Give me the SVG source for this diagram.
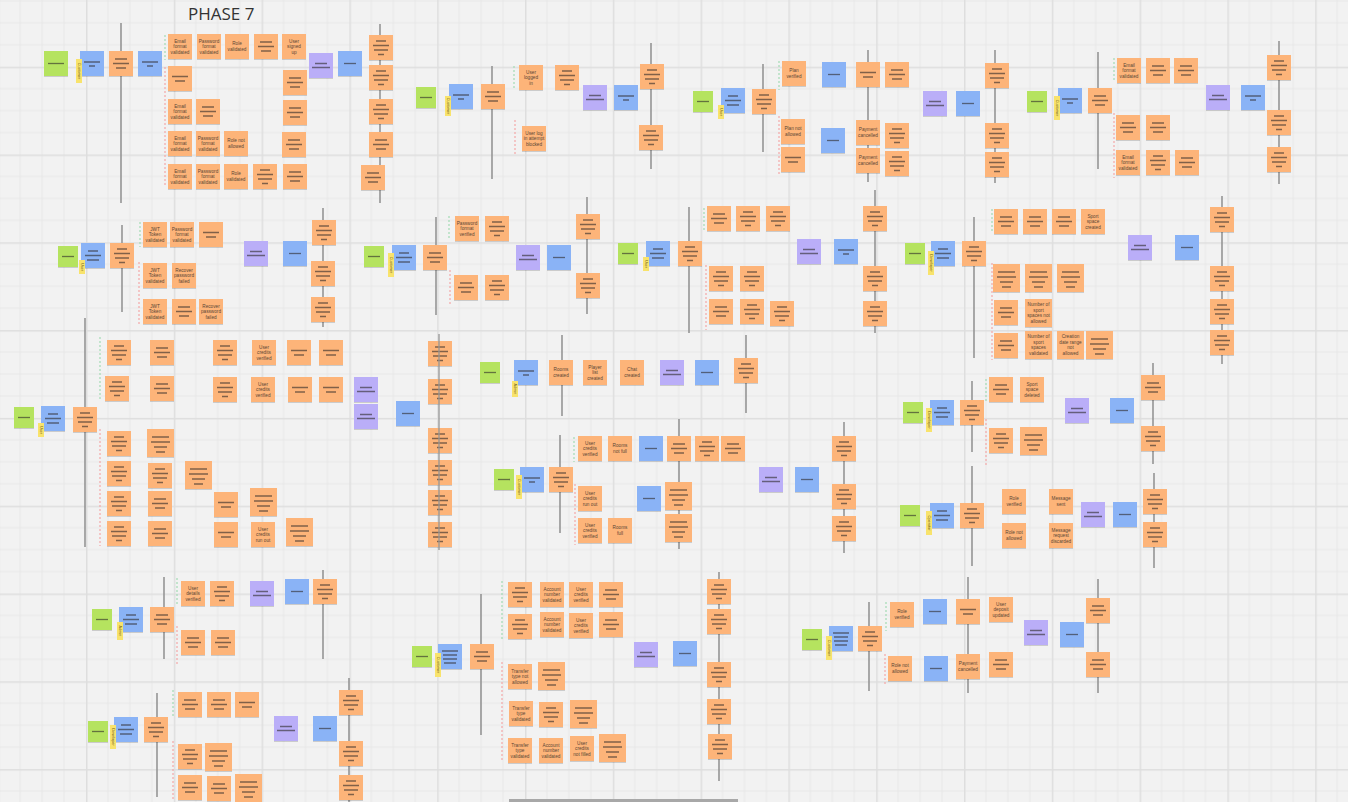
<svg xmlns="http://www.w3.org/2000/svg" width="1348" height="802" viewBox="0 0 1348 802">
<style>
.o{fill:#fdb479}.b{fill:#8ab3f6}.g{fill:#b5e35f}.p{fill:#baaef8}.y{fill:#f8e36c}
rect.o,rect.b,rect.g,rect.p{filter:drop-shadow(0 1px 0.6px rgba(0,0,0,.16))}
.l{stroke:rgba(45,40,40,.6);stroke-width:1.3;fill:none}
.t{font-family:"Liberation Sans",Arial,sans-serif;font-size:4.7px;fill:#5a4636;text-anchor:middle}
.yt{font-family:"Liberation Sans",Arial,sans-serif;font-size:3.8px;fill:#6b5a1a;text-anchor:middle}
.v{stroke:#959595;stroke-width:1.6;fill:none}
.gd{stroke:#a8dcb8;stroke-width:1.3;stroke-dasharray:2 2;fill:none}
.rd{stroke:#f3adad;stroke-width:1.3;stroke-dasharray:2 2;fill:none}
.title{font-family:"Open Sans","Liberation Sans",sans-serif;font-size:17px;fill:#333}
</style>
<defs>
<pattern id="grid" patternUnits="userSpaceOnUse" x="86" y="66.7" width="87.8" height="87.8">
<path d="M21.95 0V87.8M43.9 0V87.8M65.85 0V87.8M0 21.95H87.8M0 43.9H87.8M0 65.85H87.8" stroke="#e7e7e7" stroke-width="1" fill="none"/>
<path d="M0.5 0V87.8M0 0.5H87.8" stroke="#dedede" stroke-width="2" fill="none"/>
</pattern>
<g id="o3"><rect class="o" width="24" height="25"/><path class="l" d="M6 8h12M4 12.5h16M7 17h10"/></g>
<g id="o4"><rect class="o" width="24" height="25"/><path class="l" d="M7 6h10M4 10.5h16M5 15h14M9 19.5h6"/></g>
<g id="o2"><rect class="o" width="24" height="25"/><path class="l" d="M4 10.5h16M7 15h10"/></g>
<g id="O"><rect class="o" width="27" height="28"/><path class="l" d="M5 8h17M4 13h19M7 18h13M9 23h9"/></g>
<g id="t"><rect class="o" width="24" height="25"/></g>
<g id="T"><rect class="o" width="27" height="28"/></g>
<g id="b1"><rect class="b" width="24" height="25"/><path class="l" d="M6 12.5h12"/></g>
<g id="b2"><rect class="b" width="24" height="25"/><path class="l" d="M4 11h16M9 15h6"/></g>
<g id="b3"><rect class="b" width="24" height="25"/><path class="l" d="M7 8h10M4 12.5h16M6 17h12"/></g>
<g id="b4"><rect class="b" width="24" height="25"/><path class="l" d="M4 7h16M5 11h14M5 15h14M6 19h12"/></g>
<g id="p"><rect class="p" width="24" height="25"/><path class="l" d="M6 10.5h12M3 14.5h18"/></g>
<g id="g"><rect class="g" width="20" height="21"/><path class="l" d="M4 10.5h12"/></g>
<g id="G"><rect class="g" width="24" height="25"/><path class="l" d="M4 12.5h16"/></g>
</defs>
<rect width="1348" height="802" fill="#f2f2f2"/>
<rect width="1348" height="802" fill="url(#grid)"/>
<text class="title" x="188" y="20">PHASE 7</text>

<g id="connectors">
<path class="v" d="M121 23V203M380 24V203M492 66V179M651 43V169M763 64V152M868 50V182M995 50V183M1098 52V169M1279 41V184"/>
<path class="v" d="M122 225V312M323 208V327M436 217V315M587 197V314M689 207V333M875 190V333M974 217V358M1222 196V364"/>
<path class="v" d="M85 318V547M562 335V416M746 335V413M560 435V533M679 419V549M844 422V553M972 381V452M1153 363V464M972 466V566M1154 473V568"/>
<path class="v" d="M164 577V659M323 570V659M157 693V797M349 678V802M481 594V735M719 572V781M869 602V691M968 577V693M1098 579V693"/>
<path class="gd" d="M165 35V60M514 66V90M779 61V90M1114 58V82M140 222V247M449 216V240M704 208V232M992 209V232M100 337V401M574 437V462M986 379V403M177 578V605M173 690V718M502 581V640M886 602V631"/>
<path class="rd" d="M165 67V187M515 120V154M779 116V174M1114 113V178M139 262V325M450 270V305M706 265V330M992 263V360M100 429V546M575 484V545M986 419V465M177 626V664M173 741V800M502 662V762M885 654V686"/>
</g>

<!-- Section A -->
<g id="a1"><use href="#G" x="44" y="51"/></g>
<g id="a2"><use href="#b2" x="80" y="51"/></g>
<g id="a2t"><rect class="y" x="76" y="59" width="6" height="24"/><text class="yt" transform="rotate(90 79 71)" x="79" y="72.3">Customer</text></g>
<g id="a3"><use href="#o3" x="109" y="51"/></g>
<g id="a4"><use href="#b2" x="138" y="51"/></g>
<g id="a5"><use href="#t" x="168" y="34"/><text class="t"><tspan x="180" y="42.5">Email</tspan><tspan x="180" y="48">format</tspan><tspan x="180" y="53.5">validated</tspan></text></g>
<g id="a6"><use href="#t" x="197" y="34"/><text class="t"><tspan x="209" y="42.5">Password</tspan><tspan x="209" y="48">format</tspan><tspan x="209" y="53.5">validated</tspan></text></g>
<g id="a7"><use href="#t" x="225" y="34"/><text class="t"><tspan x="237" y="45">Role</tspan><tspan x="237" y="50.5">validated</tspan></text></g>
<g id="a8"><use href="#o3" x="254" y="34"/></g>
<g id="a9"><use href="#t" x="282" y="34"/><text class="t"><tspan x="294" y="42.5">User</tspan><tspan x="294" y="48">signed</tspan><tspan x="294" y="53.5">up</tspan></text></g>
<g id="a10"><use href="#o2" x="168" y="66"/></g>
<g id="a11"><use href="#t" x="168" y="99"/><text class="t"><tspan x="180" y="107.5">Email</tspan><tspan x="180" y="113">format</tspan><tspan x="180" y="118.5">validated</tspan></text></g>
<g id="a12"><use href="#o3" x="196" y="99"/></g>
<g id="a13"><use href="#t" x="168" y="131"/><text class="t"><tspan x="180" y="139.5">Email</tspan><tspan x="180" y="145">format</tspan><tspan x="180" y="150.5">validated</tspan></text></g>
<g id="a14"><use href="#t" x="196" y="131"/><text class="t"><tspan x="208" y="139.5">Password</tspan><tspan x="208" y="145">format</tspan><tspan x="208" y="150.5">validated</tspan></text></g>
<g id="a15"><use href="#t" x="224" y="131"/><text class="t"><tspan x="236" y="142">Role not</tspan><tspan x="236" y="147.5">allowed</tspan></text></g>
<g id="a16"><use href="#t" x="168" y="164"/><text class="t"><tspan x="180" y="172.5">Email</tspan><tspan x="180" y="178">format</tspan><tspan x="180" y="183.5">validated</tspan></text></g>
<g id="a17"><use href="#t" x="196" y="164"/><text class="t"><tspan x="208" y="172.5">Password</tspan><tspan x="208" y="178">format</tspan><tspan x="208" y="183.5">validated</tspan></text></g>
<g id="a18"><use href="#t" x="224" y="164"/><text class="t"><tspan x="236" y="175">Role</tspan><tspan x="236" y="180.5">validated</tspan></text></g>
<g id="a19"><use href="#o4" x="253" y="164"/></g>
<g id="a20"><use href="#o3" x="283" y="164"/></g>
<g id="a21"><use href="#o3" x="283" y="70"/></g>
<g id="a22"><use href="#o3" x="283" y="100"/></g>
<g id="a23"><use href="#o3" x="282" y="132"/></g>
<g id="a24"><use href="#p" x="309" y="53"/></g>
<g id="a25"><use href="#b1" x="338" y="51"/></g>
<g id="a26"><use href="#o4" x="369" y="35"/></g>
<g id="a27"><use href="#o4" x="369" y="65"/></g>
<g id="a28"><use href="#o4" x="369" y="99"/></g>
<g id="a29"><use href="#o3" x="369" y="132"/></g>
<g id="a30"><use href="#o3" x="361" y="165"/></g>

<!-- Section B -->
<g id="b_1"><use href="#g" x="416" y="87"/></g>
<g id="b_2"><use href="#b2" x="449" y="84"/></g>
<g id="b_2t"><rect class="y" x="445" y="96" width="6" height="20"/><text class="yt" transform="rotate(90 448 106)" x="448" y="107.3">Customer</text></g>
<g id="b_3"><use href="#o3" x="481" y="84"/></g>
<g id="b_4"><use href="#t" x="519" y="65"/><text class="t"><tspan x="531" y="73.5">User</tspan><tspan x="531" y="79">logged</tspan><tspan x="531" y="84.5">in</tspan></text></g>
<g id="b_5"><use href="#o4" x="555" y="65"/></g>
<g id="b_6"><use href="#t" x="522" y="126"/><text class="t"><tspan x="534" y="134.5">User log</tspan><tspan x="534" y="140">in attempt</tspan><tspan x="534" y="145.5">blocked</tspan></text></g>
<g id="b_7"><use href="#p" x="583" y="85"/></g>
<g id="b_8"><use href="#b2" x="614" y="85"/></g>
<g id="b_9"><use href="#o4" x="640" y="64"/></g>
<g id="b_10"><use href="#o4" x="639" y="125"/></g>

<!-- Section C -->
<g id="c1"><use href="#g" x="693" y="91"/></g>
<g id="c2"><use href="#b3" x="721" y="88"/></g>
<g id="c2t"><rect class="y" x="718" y="105" width="6" height="14"/><text class="yt" transform="rotate(90 721 112)" x="721" y="113.3">User</text></g>
<g id="c3"><use href="#o4" x="752" y="89"/></g>
<g id="c4"><use href="#t" x="782" y="61"/><text class="t"><tspan x="794" y="72">Plan</tspan><tspan x="794" y="77.5">verified</tspan></text></g>
<g id="c5"><use href="#b1" x="822" y="62"/></g>
<g id="c6"><use href="#t" x="781" y="119"/><text class="t"><tspan x="793" y="130">Plan not</tspan><tspan x="793" y="135.5">allowed</tspan></text></g>
<g id="c7"><use href="#o2" x="781" y="147"/></g>
<g id="c8"><use href="#b1" x="821" y="128"/></g>
<g id="c9"><use href="#o2" x="856" y="62"/></g>
<g id="c10"><use href="#o3" x="885" y="62"/></g>
<g id="c11"><use href="#t" x="856" y="120"/><text class="t"><tspan x="868" y="131">Payment</tspan><tspan x="868" y="136.5">cancelled</tspan></text></g>
<g id="c12"><use href="#o4" x="885" y="123"/></g>
<g id="c13"><use href="#t" x="856" y="148"/><text class="t"><tspan x="868" y="159">Payment</tspan><tspan x="868" y="164.5">cancelled</tspan></text></g>
<g id="c14"><use href="#o4" x="885" y="151"/></g>
<g id="c15"><use href="#p" x="923" y="91"/></g>
<g id="c16"><use href="#b1" x="956" y="91"/></g>
<g id="c17"><use href="#o4" x="985" y="63"/></g>
<g id="c18"><use href="#o4" x="985" y="123"/></g>
<g id="c19"><use href="#o4" x="985" y="152"/></g>

<!-- Section D -->
<g id="d1"><use href="#g" x="1027" y="91"/></g>
<g id="d2"><use href="#b2" x="1058" y="88"/></g>
<g id="d2t"><rect class="y" x="1054" y="96" width="6" height="24"/><text class="yt" transform="rotate(90 1057 108)" x="1057" y="109.3">Customer</text></g>
<g id="d3"><use href="#o3" x="1088" y="88"/></g>
<g id="d4"><use href="#t" x="1117" y="58"/><text class="t"><tspan x="1129" y="66.5">Email</tspan><tspan x="1129" y="72">format</tspan><tspan x="1129" y="77.5">validated</tspan></text></g>
<g id="d5"><use href="#o3" x="1146" y="58"/></g>
<g id="d6"><use href="#o3" x="1174" y="58"/></g>
<g id="d7"><use href="#o3" x="1116" y="115"/></g>
<g id="d8"><use href="#o3" x="1146" y="115"/></g>
<g id="d9"><use href="#t" x="1116" y="150"/><text class="t"><tspan x="1128" y="158.5">Email</tspan><tspan x="1128" y="164">format</tspan><tspan x="1128" y="169.5">validated</tspan></text></g>
<g id="d10"><use href="#o4" x="1146" y="150"/></g>
<g id="d11"><use href="#o3" x="1175" y="150"/></g>
<g id="d12"><use href="#p" x="1206" y="85"/></g>
<g id="d13"><use href="#b2" x="1241" y="85"/></g>
<g id="d14"><use href="#o4" x="1267" y="55"/></g>
<g id="d15"><use href="#o4" x="1267" y="110"/></g>
<g id="d16"><use href="#o4" x="1267" y="147"/></g>

<!-- Section E -->
<g id="e1"><use href="#g" x="58" y="246"/></g>
<g id="e2"><use href="#b3" x="81" y="243"/></g>
<g id="e2t"><rect class="y" x="79" y="260" width="6" height="14"/><text class="yt" transform="rotate(90 82 267)" x="82" y="268.3">User</text></g>
<g id="e3"><use href="#o4" x="110" y="243"/></g>
<g id="e4"><use href="#t" x="143" y="222"/><text class="t"><tspan x="155" y="230.5">JWT</tspan><tspan x="155" y="236">Token</tspan><tspan x="155" y="241.5">validated</tspan></text></g>
<g id="e5"><use href="#t" x="170" y="222"/><text class="t"><tspan x="182" y="230.5">Password</tspan><tspan x="182" y="236">format</tspan><tspan x="182" y="241.5">validated</tspan></text></g>
<g id="e6"><use href="#o2" x="199" y="222"/></g>
<g id="e7"><use href="#t" x="143" y="263"/><text class="t"><tspan x="155" y="271.5">JWT</tspan><tspan x="155" y="277">Token</tspan><tspan x="155" y="282.5">validated</tspan></text></g>
<g id="e8"><use href="#t" x="172" y="263"/><text class="t"><tspan x="184" y="271.5">Recover</tspan><tspan x="184" y="277">password</tspan><tspan x="184" y="282.5">failed</tspan></text></g>
<g id="e9"><use href="#t" x="143" y="299"/><text class="t"><tspan x="155" y="307.5">JWT</tspan><tspan x="155" y="313">Token</tspan><tspan x="155" y="318.5">validated</tspan></text></g>
<g id="e10"><use href="#o3" x="172" y="299"/></g>
<g id="e11"><use href="#t" x="199" y="299"/><text class="t"><tspan x="211" y="307.5">Recover</tspan><tspan x="211" y="313">password</tspan><tspan x="211" y="318.5">failed</tspan></text></g>
<g id="e12"><use href="#p" x="244" y="241"/></g>
<g id="e13"><use href="#b1" x="283" y="241"/></g>
<g id="e14"><use href="#o4" x="312" y="220"/></g>
<g id="e15"><use href="#o4" x="311" y="261"/></g>
<g id="e16"><use href="#o4" x="311" y="297"/></g>

<!-- Section F -->
<g id="f1"><use href="#g" x="364" y="246"/></g>
<g id="f2"><use href="#b3" x="392" y="245"/></g>
<g id="f2t"><rect class="y" x="388" y="253" width="6" height="24"/><text class="yt" transform="rotate(90 391 265)" x="391" y="266.3">Customer</text></g>
<g id="f3"><use href="#o3" x="423" y="245"/></g>
<g id="f4"><use href="#t" x="455" y="216"/><text class="t"><tspan x="467" y="224.5">Password</tspan><tspan x="467" y="230">format</tspan><tspan x="467" y="235.5">verified</tspan></text></g>
<g id="f5"><use href="#o4" x="485" y="216"/></g>
<g id="f6"><use href="#o3" x="454" y="275"/></g>
<g id="f7"><use href="#o4" x="485" y="275"/></g>
<g id="f8"><use href="#p" x="516" y="245"/></g>
<g id="f9"><use href="#b1" x="547" y="245"/></g>
<g id="f10"><use href="#o4" x="576" y="214"/></g>
<g id="f11"><use href="#o4" x="576" y="273"/></g>

<!-- Section G -->
<g id="g1"><use href="#g" x="618" y="243"/></g>
<g id="g2"><use href="#b3" x="646" y="241"/></g>
<g id="g2t"><rect class="y" x="643" y="257" width="6" height="14"/><text class="yt" transform="rotate(90 646 264)" x="646" y="265.3">User</text></g>
<g id="g3"><use href="#o4" x="678" y="241"/></g>
<g id="g4"><use href="#o3" x="707" y="206"/></g>
<g id="g5"><use href="#o4" x="736" y="206"/></g>
<g id="g6"><use href="#o4" x="766" y="206"/></g>
<g id="g7"><use href="#o4" x="709" y="266"/></g>
<g id="g8"><use href="#o4" x="740" y="266"/></g>
<g id="g9"><use href="#o3" x="709" y="299"/></g>
<g id="g10"><use href="#o4" x="740" y="299"/></g>
<g id="g11"><use href="#o4" x="770" y="301"/></g>
<g id="g12"><use href="#p" x="797" y="239"/></g>
<g id="g13"><use href="#b2" x="834" y="239"/></g>
<g id="g14"><use href="#o4" x="863" y="206"/></g>
<g id="g15"><use href="#o4" x="863" y="266"/></g>
<g id="g16"><use href="#o4" x="863" y="301"/></g>

<!-- Section I -->
<g id="i1"><use href="#g" x="905" y="243"/></g>
<g id="i2"><use href="#b3" x="931" y="241"/></g>
<g id="i2t"><rect class="y" x="928" y="251" width="6" height="24"/><text class="yt" transform="rotate(90 931 263)" x="931" y="264.3">Developer</text></g>
<g id="i3"><use href="#o4" x="962" y="241"/></g>
<g id="i4"><use href="#o3" x="994" y="209"/></g>
<g id="i5"><use href="#o3" x="1023" y="209"/></g>
<g id="i6"><use href="#o3" x="1052" y="209"/></g>
<g id="i7"><use href="#t" x="1081" y="209"/><text class="t"><tspan x="1093" y="217.5">Sport</tspan><tspan x="1093" y="223">space</tspan><tspan x="1093" y="228.5">created</tspan></text></g>
<g id="i8"><use href="#O" x="993" y="264"/></g>
<g id="i9"><use href="#O" x="1025" y="264"/></g>
<g id="i10"><use href="#O" x="1057" y="264"/></g>
<g id="i11"><use href="#o3" x="994" y="300"/></g>
<g id="i12"><use href="#T" x="1025" y="299"/><text class="t"><tspan x="1038.5" y="306">Number of</tspan><tspan x="1038.5" y="311.5">sport</tspan><tspan x="1038.5" y="317">spaces not</tspan><tspan x="1038.5" y="322.5">allowed</tspan></text></g>
<g id="i13"><use href="#o3" x="994" y="333"/></g>
<g id="i14"><use href="#T" x="1025" y="331"/><text class="t"><tspan x="1038.5" y="338">Number of</tspan><tspan x="1038.5" y="343.5">sport</tspan><tspan x="1038.5" y="349">spaces</tspan><tspan x="1038.5" y="354.5">validated</tspan></text></g>
<g id="i15"><use href="#T" x="1057" y="331"/><text class="t"><tspan x="1070.5" y="338">Creation</tspan><tspan x="1070.5" y="343.5">date range</tspan><tspan x="1070.5" y="349">not</tspan><tspan x="1070.5" y="354.5">allowed</tspan></text></g>
<g id="i16"><use href="#O" x="1086" y="331"/></g>
<g id="i17"><use href="#p" x="1128" y="235"/></g>
<g id="i18"><use href="#b1" x="1175" y="235"/></g>
<g id="i19"><use href="#o4" x="1210" y="207"/></g>
<g id="i20"><use href="#o4" x="1210" y="266"/></g>
<g id="i21"><use href="#o4" x="1210" y="299"/></g>
<g id="i22"><use href="#o4" x="1210" y="330"/></g>

<!-- Section J -->
<g id="j1"><use href="#g" x="14" y="407"/></g>
<g id="j2"><use href="#b3" x="41" y="406"/></g>
<g id="j2t"><rect class="y" x="38" y="423" width="6" height="14"/><text class="yt" transform="rotate(90 41 430)" x="41" y="431.3">User</text></g>
<g id="j3"><use href="#o4" x="73" y="407"/></g>
<g id="j4"><use href="#o4" x="107" y="340"/></g>
<g id="j5"><use href="#o3" x="150" y="340"/></g>
<g id="j6"><use href="#o4" x="213" y="340"/></g>
<g id="j7"><use href="#t" x="252" y="340"/><text class="t"><tspan x="264" y="348.5">User</tspan><tspan x="264" y="354">credits</tspan><tspan x="264" y="359.5">verified</tspan></text></g>
<g id="j8"><use href="#o2" x="287" y="340"/></g>
<g id="j9"><use href="#o2" x="319" y="340"/></g>
<g id="j10"><use href="#o4" x="105" y="376"/></g>
<g id="j11"><use href="#o3" x="150" y="376"/></g>
<g id="j12"><use href="#o4" x="213" y="377"/></g>
<g id="j13"><use href="#t" x="251" y="377"/><text class="t"><tspan x="263" y="385.5">User</tspan><tspan x="263" y="391">credits</tspan><tspan x="263" y="396.5">verified</tspan></text></g>
<g id="j14"><use href="#o2" x="288" y="377"/></g>
<g id="j15"><use href="#o2" x="319" y="377"/></g>
<g id="j16"><use href="#p" x="354" y="377"/></g>
<g id="j17"><use href="#p" x="354" y="404"/></g>
<g id="j18"><use href="#b1" x="396" y="401"/></g>
<g id="j19"><use href="#o4" x="428" y="341"/></g>
<g id="j20"><use href="#o4" x="428" y="379"/></g>
<g id="j21"><use href="#o4" x="428" y="428"/></g>
<g id="j22"><use href="#o4" x="428" y="460"/></g>
<g id="j23"><use href="#o4" x="428" y="490"/></g>
<g id="j24"><use href="#o4" x="428" y="522"/></g>
<g id="j25"><use href="#o4" x="107" y="431"/></g>
<g id="j26"><use href="#O" x="147" y="429"/></g>
<g id="j27"><use href="#o4" x="107" y="461"/></g>
<g id="j28"><use href="#o4" x="148" y="463"/></g>
<g id="j29"><use href="#O" x="185" y="461"/></g>
<g id="j30"><use href="#o4" x="107" y="491"/></g>
<g id="j31"><use href="#o3" x="148" y="491"/></g>
<g id="j32"><use href="#o2" x="214" y="492"/></g>
<g id="j33"><use href="#O" x="250" y="488"/></g>
<g id="j34"><use href="#o4" x="107" y="521"/></g>
<g id="j35"><use href="#o3" x="148" y="521"/></g>
<g id="j36"><use href="#o2" x="214" y="522"/></g>
<g id="j37"><use href="#t" x="251" y="522"/><text class="t"><tspan x="263" y="530.5">User</tspan><tspan x="263" y="536">credits</tspan><tspan x="263" y="541.5">run out</tspan></text></g>
<g id="j38"><use href="#O" x="286" y="518"/></g>

<!-- Section K -->
<g id="k1"><use href="#g" x="480" y="362"/></g>
<g id="k2"><use href="#b2" x="514" y="360"/></g>
<g id="k2t"><rect class="y" x="512" y="381" width="6" height="16"/><text class="yt" transform="rotate(90 515 389)" x="515" y="390.3">Admin</text></g>
<g id="k3"><use href="#t" x="549" y="360"/><text class="t"><tspan x="561" y="371">Rooms</tspan><tspan x="561" y="376.5">created</tspan></text></g>
<g id="k4"><use href="#t" x="583" y="360"/><text class="t"><tspan x="595" y="368.5">Player</tspan><tspan x="595" y="374">list</tspan><tspan x="595" y="379.5">created</tspan></text></g>
<g id="k5"><use href="#t" x="620" y="360"/><text class="t"><tspan x="632" y="371">Chat</tspan><tspan x="632" y="376.5">created</tspan></text></g>
<g id="k6"><use href="#p" x="660" y="360"/></g>
<g id="k7"><use href="#b1" x="695" y="360"/></g>
<g id="k8"><use href="#o4" x="734" y="358"/></g>

<!-- Section L -->
<g id="l1"><use href="#g" x="494" y="469"/></g>
<g id="l2"><use href="#b2" x="520" y="467"/></g>
<g id="l2t"><rect class="y" x="516" y="475" width="6" height="24"/><text class="yt" transform="rotate(90 519 487)" x="519" y="488.3">Customer</text></g>
<g id="l3"><use href="#o4" x="549" y="467"/></g>
<g id="l4"><use href="#t" x="578" y="436"/><text class="t"><tspan x="590" y="444.5">User</tspan><tspan x="590" y="450">credits</tspan><tspan x="590" y="455.5">verified</tspan></text></g>
<g id="l5"><use href="#t" x="608" y="436"/><text class="t"><tspan x="620" y="447">Rooms</tspan><tspan x="620" y="452.5">not full</tspan></text></g>
<g id="l6"><use href="#b1" x="639" y="436"/></g>
<g id="l7"><use href="#o3" x="667" y="436"/></g>
<g id="l8"><use href="#o4" x="695" y="436"/></g>
<g id="l9"><use href="#o3" x="721" y="436"/></g>
<g id="l10"><use href="#t" x="578" y="486"/><text class="t"><tspan x="590" y="494.5">User</tspan><tspan x="590" y="500">credits</tspan><tspan x="590" y="505.5">run out</tspan></text></g>
<g id="l11"><use href="#b1" x="637" y="486"/></g>
<g id="l12"><use href="#O" x="665" y="482"/></g>
<g id="l13"><use href="#O" x="665" y="514"/></g>
<g id="l14"><use href="#t" x="578" y="518"/><text class="t"><tspan x="590" y="526.5">User</tspan><tspan x="590" y="532">credits</tspan><tspan x="590" y="537.5">verified</tspan></text></g>
<g id="l15"><use href="#t" x="608" y="518"/><text class="t"><tspan x="620" y="529">Rooms</tspan><tspan x="620" y="534.5">full</tspan></text></g>
<g id="l16"><use href="#p" x="759" y="467"/></g>
<g id="l17"><use href="#b1" x="795" y="467"/></g>
<g id="l18"><use href="#o4" x="832" y="436"/></g>
<g id="l19"><use href="#o4" x="832" y="484"/></g>
<g id="l20"><use href="#o4" x="832" y="516"/></g>

<!-- Section M -->
<g id="m1"><use href="#g" x="903" y="402"/></g>
<g id="m2"><use href="#b3" x="930" y="400"/></g>
<g id="m2t"><rect class="y" x="926" y="408" width="6" height="24"/><text class="yt" transform="rotate(90 929 420)" x="929" y="421.3">Developer</text></g>
<g id="m3"><use href="#o4" x="960" y="400"/></g>
<g id="m4"><use href="#o3" x="989" y="377"/></g>
<g id="m5"><use href="#t" x="1020" y="377"/><text class="t"><tspan x="1032" y="385.5">Sport</tspan><tspan x="1032" y="391">space</tspan><tspan x="1032" y="396.5">deleted</tspan></text></g>
<g id="m6"><use href="#o4" x="989" y="428"/></g>
<g id="m7"><use href="#O" x="1020" y="427"/></g>
<g id="m8"><use href="#p" x="1065" y="398"/></g>
<g id="m9"><use href="#b1" x="1110" y="398"/></g>
<g id="m10"><use href="#o3" x="1141" y="375"/></g>
<g id="m11"><use href="#o4" x="1141" y="426"/></g>

<!-- Section N -->
<g id="n1"><use href="#g" x="900" y="505"/></g>
<g id="n2"><use href="#b3" x="930" y="503"/></g>
<g id="n2t"><rect class="y" x="926" y="511" width="6" height="24"/><text class="yt" transform="rotate(90 929 523)" x="929" y="524.3">Operator</text></g>
<g id="n3"><use href="#o4" x="960" y="503"/></g>
<g id="n4"><use href="#t" x="1002" y="489"/><text class="t"><tspan x="1014" y="500">Role</tspan><tspan x="1014" y="505.5">verified</tspan></text></g>
<g id="n5"><use href="#t" x="1002" y="523"/><text class="t"><tspan x="1014" y="534">Role not</tspan><tspan x="1014" y="539.5">allowed</tspan></text></g>
<g id="n6"><use href="#t" x="1049" y="489"/><text class="t"><tspan x="1061" y="500">Message</tspan><tspan x="1061" y="505.5">sent</tspan></text></g>
<g id="n7"><use href="#t" x="1049" y="523"/><text class="t"><tspan x="1061" y="531.5">Message</tspan><tspan x="1061" y="537">request</tspan><tspan x="1061" y="542.5">discarded</tspan></text></g>
<g id="n8"><use href="#p" x="1081" y="502"/></g>
<g id="n9"><use href="#b1" x="1113" y="502"/></g>
<g id="n10"><use href="#o4" x="1143" y="489"/></g>
<g id="n11"><use href="#o4" x="1143" y="522"/></g>

<!-- Section O -->
<g id="o_1"><use href="#g" x="92" y="609"/></g>
<g id="o_2"><use href="#b3" x="119" y="607"/></g>
<g id="o_2t"><rect class="y" x="117" y="622" width="6" height="18"/><text class="yt" transform="rotate(90 120 631)" x="120" y="632.3">Admin</text></g>
<g id="o_3"><use href="#o3" x="150" y="607"/></g>
<g id="o_4"><use href="#t" x="181" y="581"/><text class="t"><tspan x="193" y="589.5">User</tspan><tspan x="193" y="595">details</tspan><tspan x="193" y="600.5">verified</tspan></text></g>
<g id="o_5"><use href="#o4" x="210" y="581"/></g>
<g id="o_6"><use href="#o3" x="181" y="630"/></g>
<g id="o_7"><use href="#o3" x="211" y="630"/></g>
<g id="o_8"><use href="#p" x="250" y="581"/></g>
<g id="o_9"><use href="#b1" x="285" y="579"/></g>
<g id="o_10"><use href="#o4" x="313" y="579"/></g>

<!-- Section P -->
<g id="p1"><use href="#g" x="88" y="721"/></g>
<g id="p2"><use href="#b3" x="114" y="717"/></g>
<g id="p2t"><rect class="y" x="110" y="725" width="6" height="24"/><text class="yt" transform="rotate(90 113 737)" x="113" y="738.3">Developer</text></g>
<g id="p3"><use href="#o4" x="144" y="717"/></g>
<g id="p4"><use href="#o3" x="178" y="692"/></g>
<g id="p5"><use href="#o3" x="207" y="692"/></g>
<g id="p6"><use href="#o2" x="235" y="692"/></g>
<g id="p7"><use href="#o4" x="178" y="744"/></g>
<g id="p8"><use href="#O" x="205" y="743"/></g>
<g id="p9"><use href="#o3" x="178" y="775"/></g>
<g id="p10"><use href="#o3" x="207" y="776"/></g>
<g id="p11"><use href="#O" x="235" y="774"/></g>
<g id="p12"><use href="#p" x="274" y="716"/></g>
<g id="p13"><use href="#b1" x="313" y="716"/></g>
<g id="p14"><use href="#o4" x="339" y="690"/></g>
<g id="p15"><use href="#o4" x="339" y="741"/></g>
<g id="p16"><use href="#o4" x="339" y="775"/></g>

<!-- Section Q -->
<g id="q1"><use href="#g" x="412" y="646"/></g>
<g id="q2"><use href="#b4" x="438" y="644"/></g>
<g id="q2t"><rect class="y" x="435" y="653" width="6" height="24"/><text class="yt" transform="rotate(90 438 665)" x="438" y="666.3">Customer</text></g>
<g id="q3"><use href="#o3" x="470" y="644"/></g>
<g id="q4"><use href="#o4" x="508" y="582"/></g>
<g id="q5"><use href="#t" x="540" y="582"/><text class="t"><tspan x="552" y="590.5">Account</tspan><tspan x="552" y="596">number</tspan><tspan x="552" y="601.5">validated</tspan></text></g>
<g id="q6"><use href="#t" x="569" y="582"/><text class="t"><tspan x="581" y="590.5">User</tspan><tspan x="581" y="596">credits</tspan><tspan x="581" y="601.5">verified</tspan></text></g>
<g id="q7"><use href="#o3" x="599" y="582"/></g>
<g id="q8"><use href="#o4" x="508" y="614"/></g>
<g id="q9"><use href="#t" x="540" y="612"/><text class="t"><tspan x="552" y="620.5">Account</tspan><tspan x="552" y="626">number</tspan><tspan x="552" y="631.5">validated</tspan></text></g>
<g id="q10"><use href="#t" x="569" y="613"/><text class="t"><tspan x="581" y="621.5">User</tspan><tspan x="581" y="627">credits</tspan><tspan x="581" y="632.5">verified</tspan></text></g>
<g id="q11"><use href="#o3" x="599" y="612"/></g>
<g id="q12"><use href="#t" x="508" y="664"/><text class="t"><tspan x="520" y="672.5">Transfer</tspan><tspan x="520" y="678">type not</tspan><tspan x="520" y="683.5">allowed</tspan></text></g>
<g id="q13"><use href="#O" x="538" y="662"/></g>
<g id="q14"><use href="#t" x="509" y="701"/><text class="t"><tspan x="521" y="709.5">Transfer</tspan><tspan x="521" y="715">type</tspan><tspan x="521" y="720.5">validated</tspan></text></g>
<g id="q15"><use href="#o4" x="539" y="702"/></g>
<g id="q16"><use href="#O" x="570" y="700"/></g>
<g id="q17"><use href="#t" x="508" y="738"/><text class="t"><tspan x="520" y="746.5">Transfer</tspan><tspan x="520" y="752">type</tspan><tspan x="520" y="757.5">validated</tspan></text></g>
<g id="q18"><use href="#t" x="539" y="738"/><text class="t"><tspan x="551" y="746.5">Account</tspan><tspan x="551" y="752">number</tspan><tspan x="551" y="757.5">validated</tspan></text></g>
<g id="q19"><use href="#t" x="570" y="736"/><text class="t"><tspan x="582" y="744.5">User</tspan><tspan x="582" y="750">credits</tspan><tspan x="582" y="755.5">not filled</tspan></text></g>
<g id="q20"><use href="#O" x="599" y="734"/></g>
<g id="q21"><use href="#p" x="634" y="642"/></g>
<g id="q22"><use href="#b1" x="673" y="641"/></g>
<g id="q23"><use href="#o4" x="707" y="579"/></g>
<g id="q24"><use href="#o4" x="707" y="609"/></g>
<g id="q25"><use href="#o4" x="707" y="662"/></g>
<g id="q26"><use href="#o4" x="707" y="699"/></g>
<g id="q27"><use href="#o4" x="708" y="734"/></g>

<!-- Section R -->
<g id="r1"><use href="#g" x="802" y="629"/></g>
<g id="r2"><use href="#b4" x="829" y="626"/></g>
<g id="r2t"><rect class="y" x="826" y="636" width="6" height="24"/><text class="yt" transform="rotate(90 829 648)" x="829" y="649.3">Customer</text></g>
<g id="r3"><use href="#o4" x="858" y="626"/></g>
<g id="r4"><use href="#t" x="890" y="602"/><text class="t"><tspan x="902" y="613">Role</tspan><tspan x="902" y="618.5">verified</tspan></text></g>
<g id="r5"><use href="#b1" x="923" y="599"/></g>
<g id="r6"><use href="#o2" x="956" y="599"/></g>
<g id="r7"><use href="#t" x="989" y="597"/><text class="t"><tspan x="1001" y="605.5">User</tspan><tspan x="1001" y="611">deposit</tspan><tspan x="1001" y="616.5">updated</tspan></text></g>
<g id="r8"><use href="#t" x="888" y="656"/><text class="t"><tspan x="900" y="667">Role not</tspan><tspan x="900" y="672.5">allowed</tspan></text></g>
<g id="r9"><use href="#b1" x="924" y="656"/></g>
<g id="r10"><use href="#t" x="956" y="654"/><text class="t"><tspan x="968" y="665">Payment</tspan><tspan x="968" y="670.5">cancelled</tspan></text></g>
<g id="r11"><use href="#o3" x="989" y="652"/></g>
<g id="r12"><use href="#p" x="1024" y="620"/></g>
<g id="r13"><use href="#b1" x="1060" y="622"/></g>
<g id="r14"><use href="#o3" x="1086" y="598"/></g>
<g id="r15"><use href="#o3" x="1086" y="652"/></g>

<g id="connectors-front"><path class="v" d="M439 334V550" stroke-opacity="0.8"/></g>
<rect x="509" y="799" width="229" height="3" fill="#a8a8a8"/>
</svg>
